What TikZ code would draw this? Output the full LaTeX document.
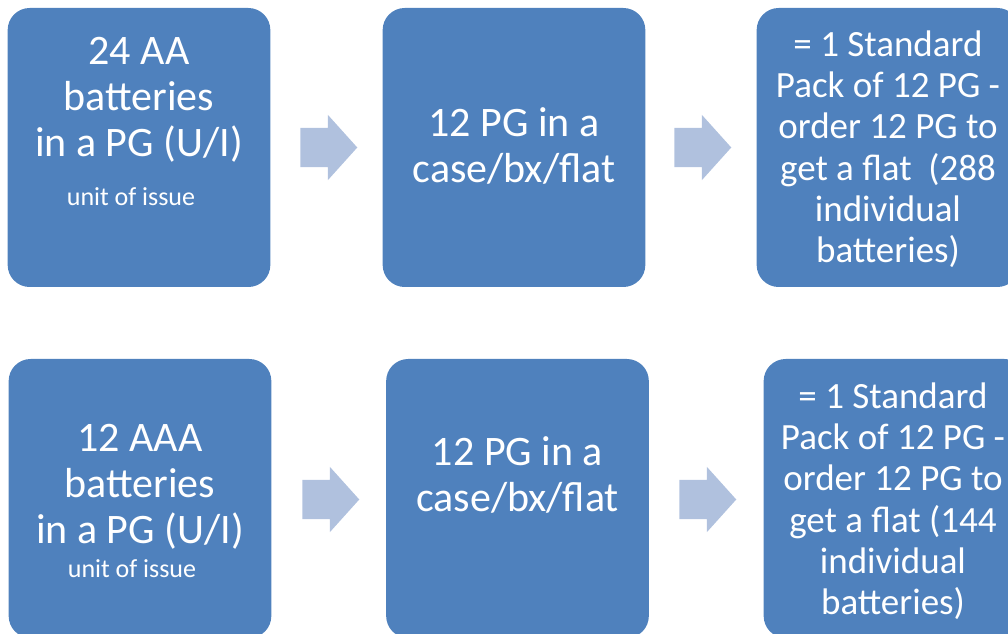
\documentclass[tikz,border=0pt]{standalone}
\usepackage{fontspec}
\setmainfont{Carlito}
\usetikzlibrary{shapes.arrows,positioning}

\definecolor{boxblue}{RGB}{79,129,189}
\definecolor{arrowblue}{RGB}{176,193,222}

\tikzset{
  packbox/.style={fill=boxblue, rounded corners=16.5pt, inner sep=0pt,
    minimum width=197pt, minimum height=209.25pt},
  packtext/.style={text=white, align=center, inner sep=0pt, anchor=base,
    font=\fontsize{31.5}{34.5}\selectfont},
  packnote/.style={packtext, font=\fontsize{27.75}{31}\selectfont},
  flowarrow/.style={single arrow, fill=arrowblue, anchor=tail, inner xsep=0pt,
    inner ysep=14.6pt, minimum height=42.75pt, single arrow head extend=9.75pt,
    single arrow tip angle=96}
}
\newcommand{\issuetxt}{\fontsize{19.5}{23}\selectfont unit of issue\hspace*{12pt}}

\begin{document}
\begin{tikzpicture}[x=0.75pt, y=-0.75pt]
  \useasboundingbox (0,0) rectangle (1008,634);
  \clip (0,0) rectangle (1008,634);

  % AA row (text nodes sit on their last baseline)
  \node[packbox] (aa_pg) at (139,147.5) {};
  \node[packbox] (aa_case) at (514,147.5) {};
  \node[packbox] (aa_std) at (888,147.5) {};
  \node[packtext] (aa_pg_txt) at (139,206) {24 AA\\batteries\\in a PG (U/I)\\[2.25pt]\issuetxt};
  \node[packtext] (aa_case_txt) at (514,183) {12 PG in a\\case/bx/flat};
  \node[packnote] (aa_std_txt) at (888,263) {= 1 Standard\\Pack of 12 PG -\\order 12 PG to\\get a flat~ (288\\individual\\batteries)};
  \node[flowarrow] (aa_arr1) at (300,147.5) {};
  \node[flowarrow] (aa_arr2) at (674,147.5) {};

  % AAA row
  \node[packbox] (aaa_pg) at (140,498.5) {};
  \node[packbox] (aaa_case) at (517.5,498.5) {};
  \node[packbox] (aaa_std) at (895,498.5) {};
  \node[packtext] (aaa_pg_txt) at (140,578) {12 AAA\\batteries\\in a PG (U/I)\\[-9pt]\issuetxt};
  \node[packtext] (aaa_case_txt) at (517.5,512) {12 PG in a\\case/bx/flat};
  \node[packnote] (aaa_std_txt) at (893,615) {= 1 Standard\\Pack of 12 PG -\\order 12 PG to\\get a flat (144\\individual\\batteries)};
  \node[flowarrow] (aaa_arr1) at (302,499.5) {};
  \node[flowarrow] (aaa_arr2) at (679,499.5) {};
\end{tikzpicture}
\end{document}
